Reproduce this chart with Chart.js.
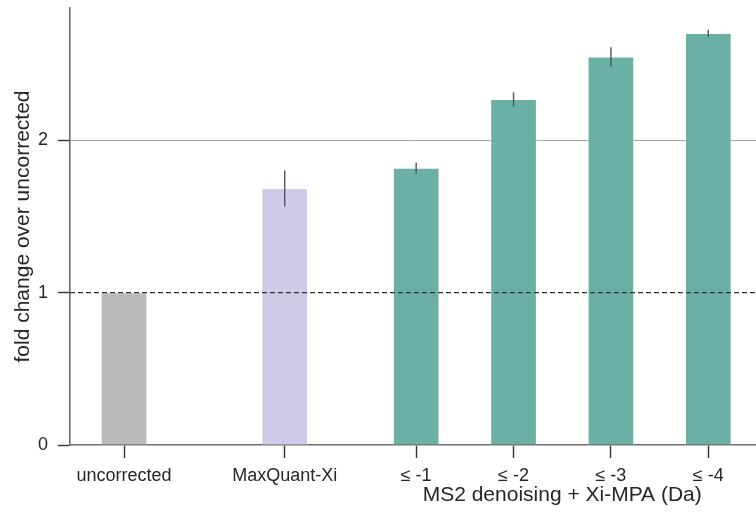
<!DOCTYPE html>
<html>
<head>
<meta charset="utf-8">
<script src="https://cdn.jsdelivr.net/npm/chart.js@4.4.1/dist/chart.umd.min.js"></script>
<style>
  html, body { margin: 0; padding: 0; background: #ffffff; }
  #wrap { width: 756px; height: 513px; }
</style>
</head>
<body>
<div id="wrap"><canvas id="c" width="756" height="513"></canvas></div>
<script>
// Fold change of identifications relative to the uncorrected search
const categories = ['uncorrected', 'MaxQuant-Xi', '≤ -1', '≤ -2', '≤ -3', '≤ -4'];
const positions  = [0, 1.65, 3, 4, 5, 6];
const foldChange = [1.0, 1.684, 1.817, 2.268, 2.547, 2.701];
const errors     = [0, 0.118, 0.037, 0.047, 0.064, 0.025];
const barColors  = ['#bababa', '#cdcbe8', '#6ab0a4', '#6ab0a4', '#6ab0a4', '#6ab0a4'];
const groupLabel = 'MS2 denoising + Xi-MPA (Da)';
const groupMembers = [2, 3, 4, 5];
const referenceLevel = 1;
const yTicks = [0, 1, 2];

const FONT = "'Liberation Sans', Arial, sans-serif";
const TEXT = '#262626';

const overlay = {
  id: 'overlay',
  afterDatasetsDraw(chart) {
    const { ctx, chartArea, scales: { x, y } } = chart;
    ctx.save();
    // reference line at fold change 1
    const yr = y.getPixelForValue(referenceLevel);
    ctx.strokeStyle = '#333333';
    ctx.lineWidth = 1.4;
    ctx.setLineDash([5, 3]);
    ctx.beginPath();
    ctx.moveTo(chartArea.left, yr);
    ctx.lineTo(chartArea.right, yr);
    ctx.stroke();
    ctx.setLineDash([]);
    // error bars
    ctx.strokeStyle = '#555555';
    ctx.lineWidth = 1.4;
    foldChange.forEach((v, i) => {
      if (!errors[i]) return;
      const px = x.getPixelForValue(positions[i]);
      ctx.beginPath();
      ctx.moveTo(px, y.getPixelForValue(v - errors[i]));
      ctx.lineTo(px, y.getPixelForValue(v + errors[i]));
      ctx.stroke();
    });
    ctx.restore();
  },
  afterDraw(chart) {
    const { ctx, scales: { x } } = chart;
    const members = groupMembers.map(i => positions[i]);
    const mid = (Math.min(...members) + Math.max(...members)) / 2;
    ctx.save();
    ctx.font = '21px ' + FONT;
    ctx.fillStyle = TEXT;
    ctx.textAlign = 'center';
    ctx.textBaseline = 'middle';
    ctx.fillText(groupLabel, x.getPixelForValue(mid), 495);
    ctx.restore();
  }
};

new Chart(document.getElementById('c'), {
  type: 'bar',
  data: {
    datasets: [{
      data: foldChange.map((v, i) => ({ x: positions[i], y: v })),
      backgroundColor: barColors,
      borderColor: 'rgba(255,255,255,0.5)',
      borderWidth: 1,
      barThickness: 46
    }]
  },
  options: {
    responsive: false,
    animation: false,
    devicePixelRatio: 1,
    layout: { padding: { top: 8, right: 0, left: 0, bottom: 0 } },
    plugins: { legend: { display: false }, tooltip: { enabled: false } },
    scales: {
      x: {
        type: 'linear',
        min: -0.555,
        max: 6.49,
        offset: false,
        afterBuildTicks(scale) { scale.ticks = positions.map(p => ({ value: p })); },
        afterFit(scale) {
          scale.height = 68;
          scale.paddingLeft = 0;
          scale.paddingRight = 0;
        },
        border: { display: true, color: '#6e6e6e', width: 1.6 },
        grid: { offset: false, drawOnChartArea: false, drawTicks: true, tickLength: 13, tickColor: '#333333', tickWidth: 1.4 },
        ticks: {
          autoSkip: false,
          maxRotation: 0,
          padding: 7,
          color: TEXT,
          font: { family: FONT, size: 18 },
          callback(value) {
            const i = positions.indexOf(value);
            return i >= 0 ? categories[i] : '';
          }
        }
      },
      y: {
        min: 0,
        max: 2.868,
        afterBuildTicks(scale) { scale.ticks = yTicks.map(v => ({ value: v })); },
        afterFit(scale) {
          scale.width = 70;
          scale.paddingTop = 0;
          scale.paddingBottom = 0;
        },
        border: { display: true, color: '#6e6e6e', width: 1.6 },
        grid: {
          drawOnChartArea: true,
          color: ctx => (ctx.tick && ctx.tick.value === 2 ? '#a6a6a6' : 'rgba(0,0,0,0)'),
          lineWidth: 1,
          drawTicks: true,
          tickLength: 12,
          tickColor: '#333333',
          tickWidth: 1.4
        },
        ticks: {
          padding: 10,
          color: TEXT,
          font: { family: FONT, size: 18 },
          callback: v => String(v)
        },
        title: {
          display: true,
          text: 'fold change over uncorrected',
          color: TEXT,
          font: { family: FONT, size: 21 },
          padding: { top: 11, bottom: 0 }
        }
      }
    }
  },
  plugins: [overlay]
});
</script>
</body>
</html>
